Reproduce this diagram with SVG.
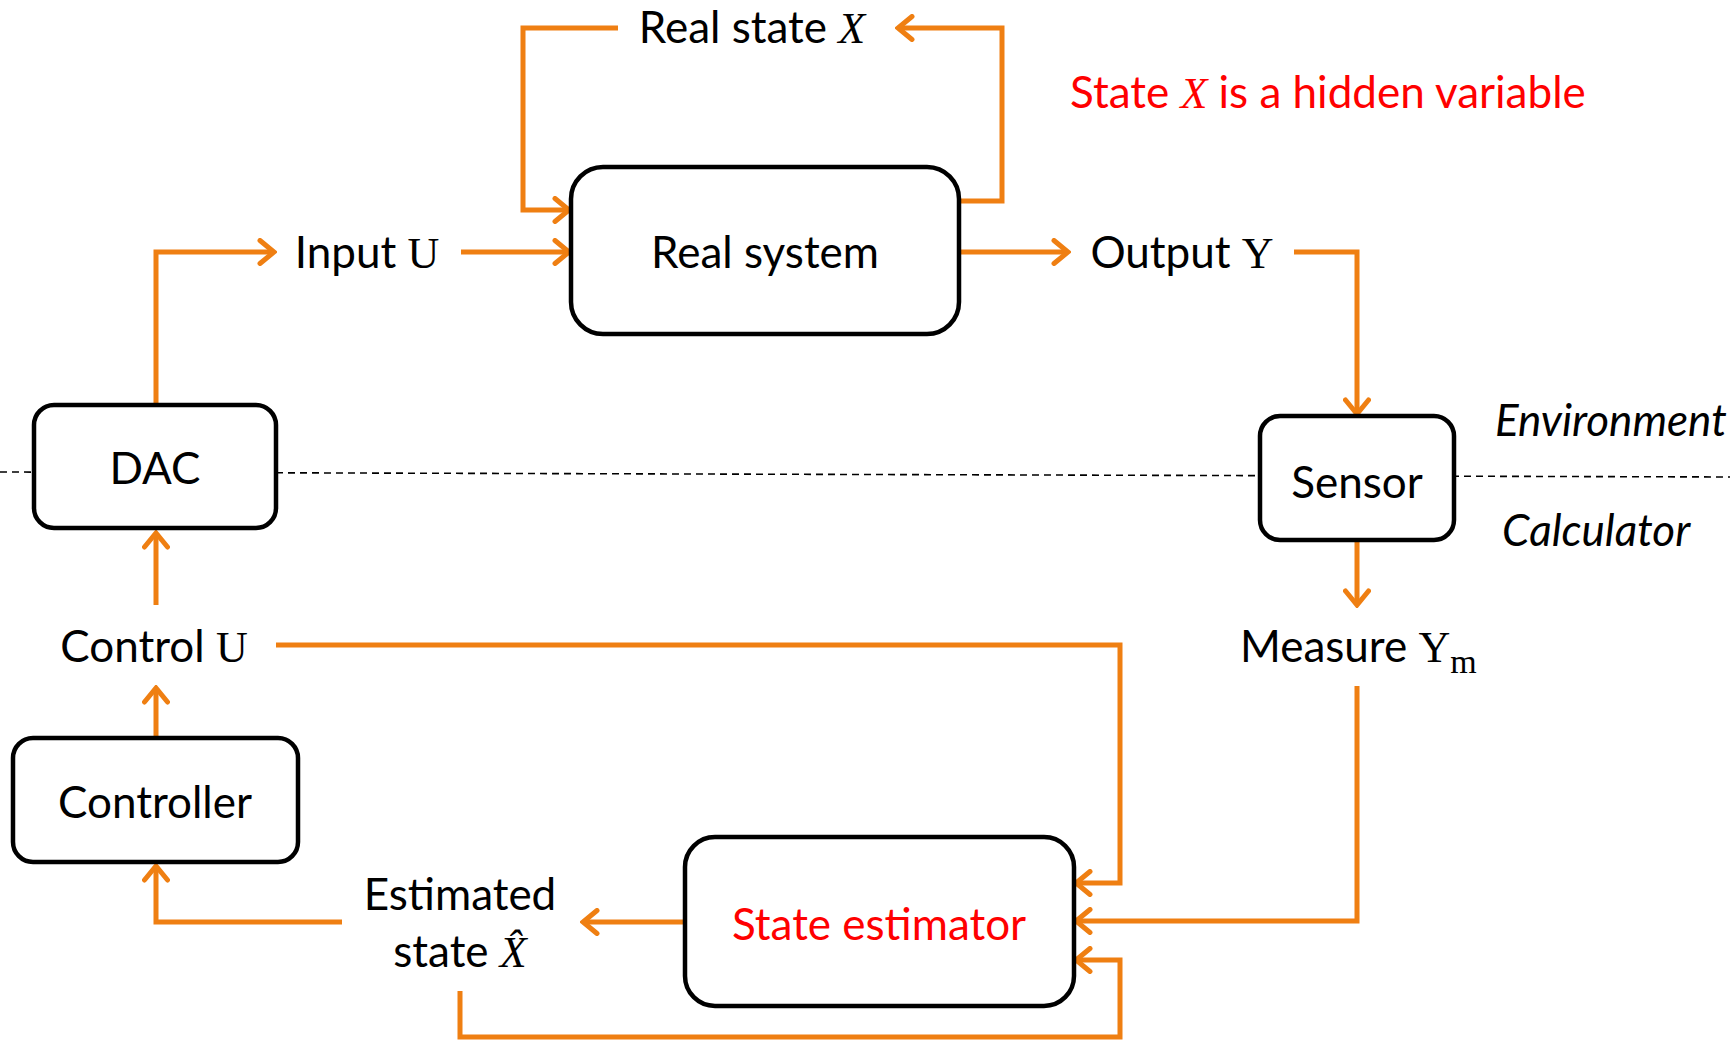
<svg xmlns="http://www.w3.org/2000/svg" width="1730" height="1043" viewBox="0 0 1730 1043">
<defs>
<marker id="arr" viewBox="0 0 20 28" refX="17" refY="14" markerWidth="20" markerHeight="28" markerUnits="userSpaceOnUse" orient="auto">
<path d="M3,2.5 L17,14 L3,25.5" fill="none" stroke="#EF7F12" stroke-width="5" stroke-linecap="round" stroke-linejoin="miter"/>
</marker>
</defs>
<style>
.box{fill:#fff;stroke:#000;stroke-width:4.5}
.t{font-family:Lato,"Gill Sans","Open Sans",sans-serif;font-size:44px;fill:#000}
.c{text-anchor:middle}
.m{font-family:"Liberation Serif","DejaVu Serif",serif}
.i{font-style:italic}
.red{fill:#ff0000}
.e{stroke:#EF7F12;stroke-width:5;fill:none;stroke-linejoin:miter}
.dash{stroke:#000;stroke-width:1.6;stroke-dasharray:7 5;fill:none}
</style>
<rect width="1730" height="1043" fill="#fff"/>
<line class="dash" x1="0" y1="472" x2="1730" y2="477"/>
<g id="edges">
<path class="e" d="M618,28 H523 V210 H569" marker-end="url(#arr)"/>
<path class="e" d="M959,201 H1002 V28 H898" marker-end="url(#arr)"/>
<path class="e" d="M156,404 V252 H274" marker-end="url(#arr)"/>
<path class="e" d="M461,252 H569" marker-end="url(#arr)"/>
<path class="e" d="M959,252 H1068" marker-end="url(#arr)"/>
<path class="e" d="M1294,252 H1357 V414" marker-end="url(#arr)"/>
<path class="e" d="M1357,540 V605" marker-end="url(#arr)"/>
<path class="e" d="M1357,686 V921 H1076" marker-end="url(#arr)"/>
<path class="e" d="M276,645 H1120 V883 H1076" marker-end="url(#arr)"/>
<path class="e" d="M460,991 V1037 H1120 V960 H1076" marker-end="url(#arr)"/>
<path class="e" d="M685,922 H583" marker-end="url(#arr)"/>
<path class="e" d="M342,922 H156 V866" marker-end="url(#arr)"/>
<path class="e" d="M156,738 V688" marker-end="url(#arr)"/>
<path class="e" d="M156,605 V533" marker-end="url(#arr)"/>
</g>
<g id="real-system">
<rect class="box" x="571" y="167" width="388" height="167" rx="32"/>
<text class="t c" x="765" y="268">Real system</text>
</g>
<g id="dac">
<rect class="box" x="34" y="405" width="242" height="123" rx="20"/>
<text class="t c" x="155" y="484">DAC</text>
</g>
<g id="sensor">
<rect class="box" x="1260" y="416" width="194" height="124" rx="20"/>
<text class="t c" x="1357" y="498">Sensor</text>
</g>
<g id="controller">
<rect class="box" x="13" y="738" width="285" height="124" rx="20"/>
<text class="t c" x="155" y="818">Controller</text>
</g>
<g id="state-estimator">
<rect class="box" x="685" y="837" width="389" height="169" rx="30"/>
<text class="t c red" x="879" y="940">State estimator</text>
</g>
<g id="labels">
<text class="t c" x="752" y="43">Real state <tspan class="m i">X</tspan></text>
<text class="t c" x="367" y="268">Input <tspan class="m">U</tspan></text>
<text class="t c" x="1182" y="268">Output <tspan class="m">Y</tspan></text>
<text class="t c" x="154" y="662">Control <tspan class="m">U</tspan></text>
<text class="t" x="1240" y="662">Measure <tspan class="m">Y</tspan><tspan class="m" font-size="34" dy="11">m</tspan></text>
<text class="t c" x="460" y="910">Estimated</text>
<text class="t c" x="460" y="967">state <tspan class="m i">X̂</tspan></text>
<text class="t red" x="1070" y="108" font-size="45">State <tspan class="m i">X</tspan> is a hidden variable</text>
<text class="t i" x="1495" y="436" font-size="43">Environment</text>
<text class="t i" x="1502" y="546" font-size="42">Calculator</text>
</g>
</svg>
